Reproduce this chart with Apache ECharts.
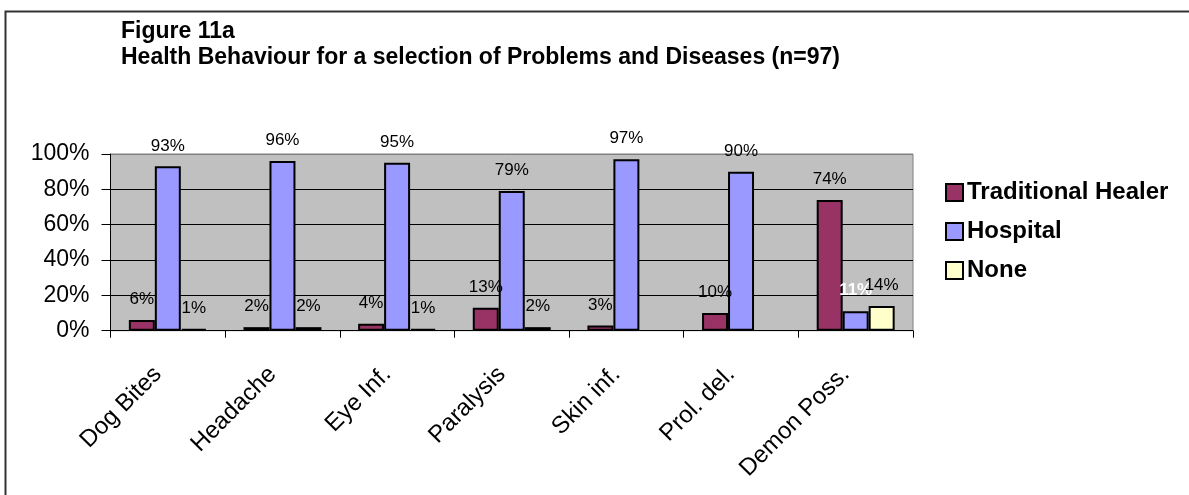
<!DOCTYPE html>
<html>
<head>
<meta charset="utf-8">
<script src="https://cdn.jsdelivr.net/npm/echarts@6/dist/echarts.min.js"></script>
<style>
  html, body { margin: 0; padding: 0; background: #fff; }
  #chart { width: 1189px; height: 495px; }
</style>
</head>
<body>
<div id="chart"></div>
<script>
// Problems / diseases asked about
const categories = ['Dog Bites', 'Headache', 'Eye Inf.', 'Paralysis', 'Skin inf.', 'Prol. del.', 'Demon Poss.'];

// Share of respondents (%) choosing each kind of care
const traditionalHealer = [6, 2, 4, 13, 3, 10, 74];
const hospital = [93, 96, 95, 79, 97, 90, 11];
const none = [1, 2, 1, 2, null, null, 14];

const yTicks = [0, 20, 40, 60, 80, 100];

const FONT = '"Liberation Sans", Arial, Helvetica, sans-serif';

const chart = echarts.init(document.getElementById('chart'), null, { renderer: 'canvas' });

const valueLabel = {
  show: true,
  position: 'top',
  distance: 12,
  formatter: p => p.value == null ? '' : p.value + '%',
  fontFamily: FONT,
  fontSize: 17,
  color: '#000'
};

function barSeries(name, values, color, labelOverrides) {
  return {
    name: name,
    type: 'bar',
    data: values.map((v, i) => (labelOverrides && labelOverrides[i]) ? { value: v, label: labelOverrides[i] } : v),
    barGap: '0%',
    barCategoryGap: '32%',
    itemStyle: { color: color, borderColor: '#000', borderWidth: 2 },
    label: valueLabel
  };
}

chart.setOption({
  animation: false,
  backgroundColor: '#fff',
  title: {
    text: 'Figure 11a\nHealth Behaviour for a selection of Problems and Diseases (n=97)',
    left: 121,
    top: 19,
    padding: 0,
    textStyle: { fontFamily: FONT, fontSize: 23, fontWeight: 'bold', color: '#000', lineHeight: 26 }
  },
  legend: {
    orient: 'vertical',
    left: 945,
    top: 180.5,
    padding: 0,
    itemWidth: 17,
    itemHeight: 17,
    itemGap: 15,
    icon: 'rect',
    textStyle: { fontFamily: FONT, fontSize: 24, fontWeight: 'bold', color: '#000', lineHeight: 24, padding: [0, 0, 0, -1] },
    data: ['Traditional Healer', 'Hospital', 'None']
  },
  grid: {
    left: 110.5,
    right: 276,
    top: 154,
    bottom: 164.3,
    show: true,
    backgroundColor: '#C0C0C0',
    borderColor: '#808080',
    borderWidth: 1
  },
  xAxis: {
    type: 'category',
    data: categories,
    boundaryGap: true,
    axisLine: { show: true, lineStyle: { color: '#000', width: 1 } },
    axisTick: { show: true, length: 7, alignWithLabel: false, lineStyle: { color: '#000' } },
    axisLabel: {
      rotate: 45,
      margin: 30,
      padding: [0, 14, 0, 0],
      interval: 0,
      fontFamily: FONT,
      fontSize: 24,
      color: '#000'
    },
    splitLine: { show: false }
  },
  yAxis: {
    type: 'value',
    min: yTicks[0],
    max: yTicks[yTicks.length - 1],
    interval: yTicks[1] - yTicks[0],
    axisLine: { show: true, lineStyle: { color: '#000', width: 1 } },
    axisTick: { show: true, length: 9, lineStyle: { color: '#000' } },
    axisLabel: {
      formatter: '{value}%',
      margin: 21,
      fontFamily: FONT,
      fontSize: 23,
      color: '#000'
    },
    splitLine: {
      show: true,
      lineStyle: { color: ['#000', '#000', '#000', '#000', '#000', '#808080'], width: 1 }
    }
  },
  series: [
    barSeries('Traditional Healer', traditionalHealer, '#993366'),
    barSeries('Hospital', hospital, '#9999FF', { 6: { color: '#fff', fontWeight: 'bold' } }),
    barSeries('None', none, '#FFFFCC')
  ],
  graphic: [
    {
      type: 'polyline',
      silent: true,
      shape: { points: [[5.5, 495], [5.5, 11.5], [1189, 11.5]] },
      style: { fill: null, stroke: '#333', lineWidth: 2 }
    }
  ]
});
</script>
</body>
</html>
